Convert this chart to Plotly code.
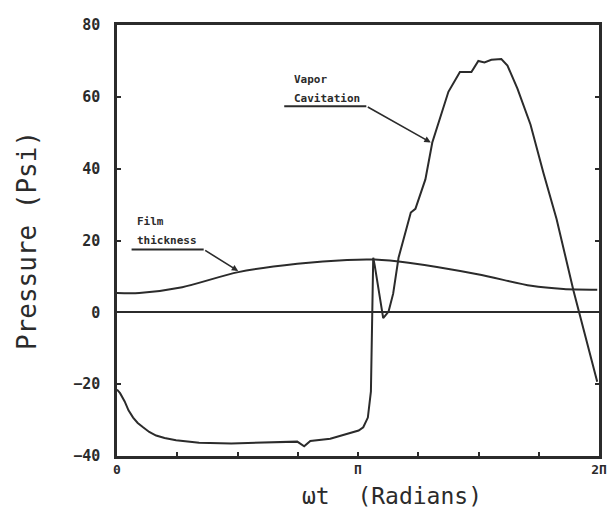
import plotly.graph_objects as go
import numpy as np

# wt in radians, pressure in psi
wt_pressure = [0.00, 0.04, 0.10, 0.15, 0.21, 0.27, 0.34, 0.42, 0.51, 0.62, 0.77, 1.07,
               1.49, 1.92, 2.27, 2.35, 2.44, 2.52, 2.78, 3.04, 3.15, 3.21, 3.27, 3.31,
               3.34, 3.36, 3.47, 3.54, 3.60, 3.67, 3.83, 3.89, 4.02, 4.11, 4.32, 4.47,
               4.62, 4.71, 4.79, 4.88, 5.01, 5.09, 5.22, 5.39, 5.56, 5.73, 5.95, 6.26]
pressure = [-21.5, -22.5, -24.8, -27.3, -29.3, -30.8, -32.0, -33.3, -34.3, -35.0, -35.6, -36.3,
            -36.5, -36.2, -35.9, -36.0, -37.3, -35.8, -35.2, -33.6, -32.9, -32.0, -29.3, -22.0,
            15.2, 13.0, -1.6, 0.2, 5.2, 15.2, 27.8, 28.8, 37.0, 47.3, 61.4, 66.9,
            66.9, 70.0, 69.6, 70.3, 70.5, 68.7, 62.3, 52.3, 38.7, 26.0, 6.1, -19.3]

wt_film = [0.00, 0.29, 0.85, 1.58, 2.35, 3.00, 3.36, 3.80, 4.70, 5.40, 5.82, 6.26]
film = [5.4, 5.4, 7.0, 11.2, 13.5, 14.6, 14.7, 13.8, 10.6, 7.4, 6.5, 6.3]

y_ticks = [-40, -20, 0, 20, 40, 60, 80]
x_ticks = [k * np.pi / 4 for k in range(9)]
x_labels = ['0', '', '', '', 'Π', '', '', '', '2Π']

INK = '#2b2b2b'
MONO = 'DejaVu Sans Mono'

fig = go.Figure()

fig.add_trace(go.Scatter(x=wt_film, y=film, mode='lines', line_shape='spline',
                         line=dict(color=INK, width=2, smoothing=0.8), showlegend=False))
fig.add_trace(go.Scatter(x=wt_pressure, y=pressure, mode='lines',
                         line=dict(color=INK, width=2), showlegend=False))

# callout labels with underline + arrow leader
labels = [
    dict(lines=['Vapor', 'Cavitation'], x=2.28, y=[64.8, 59.6],
         under=(2.18, 3.25, 57.4), tip=(4.09, 47.3)),
    dict(lines=['Film', 'thickness'], x=0.23, y=[25.3, 20.1],
         under=(0.19, 1.13, 17.5), tip=(1.58, 11.5)),
]
for lab in labels:
    for txt, yy in zip(lab['lines'], lab['y']):
        fig.add_annotation(x=lab['x'], y=yy, text=f'<b>{txt}</b>', showarrow=False,
                           xanchor='left', yanchor='middle',
                           font=dict(family=MONO, size=11, color=INK))
    x0, x1, yu = lab['under']
    fig.add_shape(type='line', x0=x0, x1=x1, y0=yu, y1=yu,
                  line=dict(color=INK, width=2))
    fig.add_annotation(x=lab['tip'][0], y=lab['tip'][1], ax=x1, ay=yu,
                       axref='x', ayref='y', text='', showarrow=True,
                       arrowhead=2, arrowsize=0.8, arrowwidth=1.6, arrowcolor=INK)

# x axis title as annotation (sits right of centre in the original)
fig.add_annotation(x=0.57, y=-0.093, xref='paper', yref='paper', text='ωt  (Radians)',
                   showarrow=False, yanchor='middle',
                   font=dict(family=MONO, size=23, color=INK))

fig.update_xaxes(range=[0, 2 * np.pi], tickvals=x_ticks, ticktext=x_labels,
                 ticks='inside', ticklen=4, tickwidth=2, tickcolor=INK,
                 showline=True, linecolor=INK, linewidth=2.5, mirror=True,
                 showgrid=False, zeroline=False,
                 tickfont=dict(family=MONO, size=13, color=INK, weight='bold'))
fig.update_yaxes(range=[-40, 80], tickvals=y_ticks,
                 ticks='inside', ticklen=4, tickwidth=2, tickcolor=INK,
                 showline=True, linecolor=INK, linewidth=2.5, mirror='ticks',
                 showgrid=False, zeroline=True, zerolinecolor=INK, zerolinewidth=2,
                 ticklabelstandoff=11,
                 tickfont=dict(family=MONO, size=15, color=INK, weight='bold'),
                 title=dict(text='Pressure (Psi)', standoff=30,
                            font=dict(family=MONO, size=26, color=INK)))

# page body adds an 8px margin, so the figure is sized to fit the 615x512 window
fig.update_layout(width=607, height=504, plot_bgcolor='white', paper_bgcolor='white',
                  margin=dict(l=109, r=10, t=8, b=56), showlegend=False)

fig.write_html('out.html')
